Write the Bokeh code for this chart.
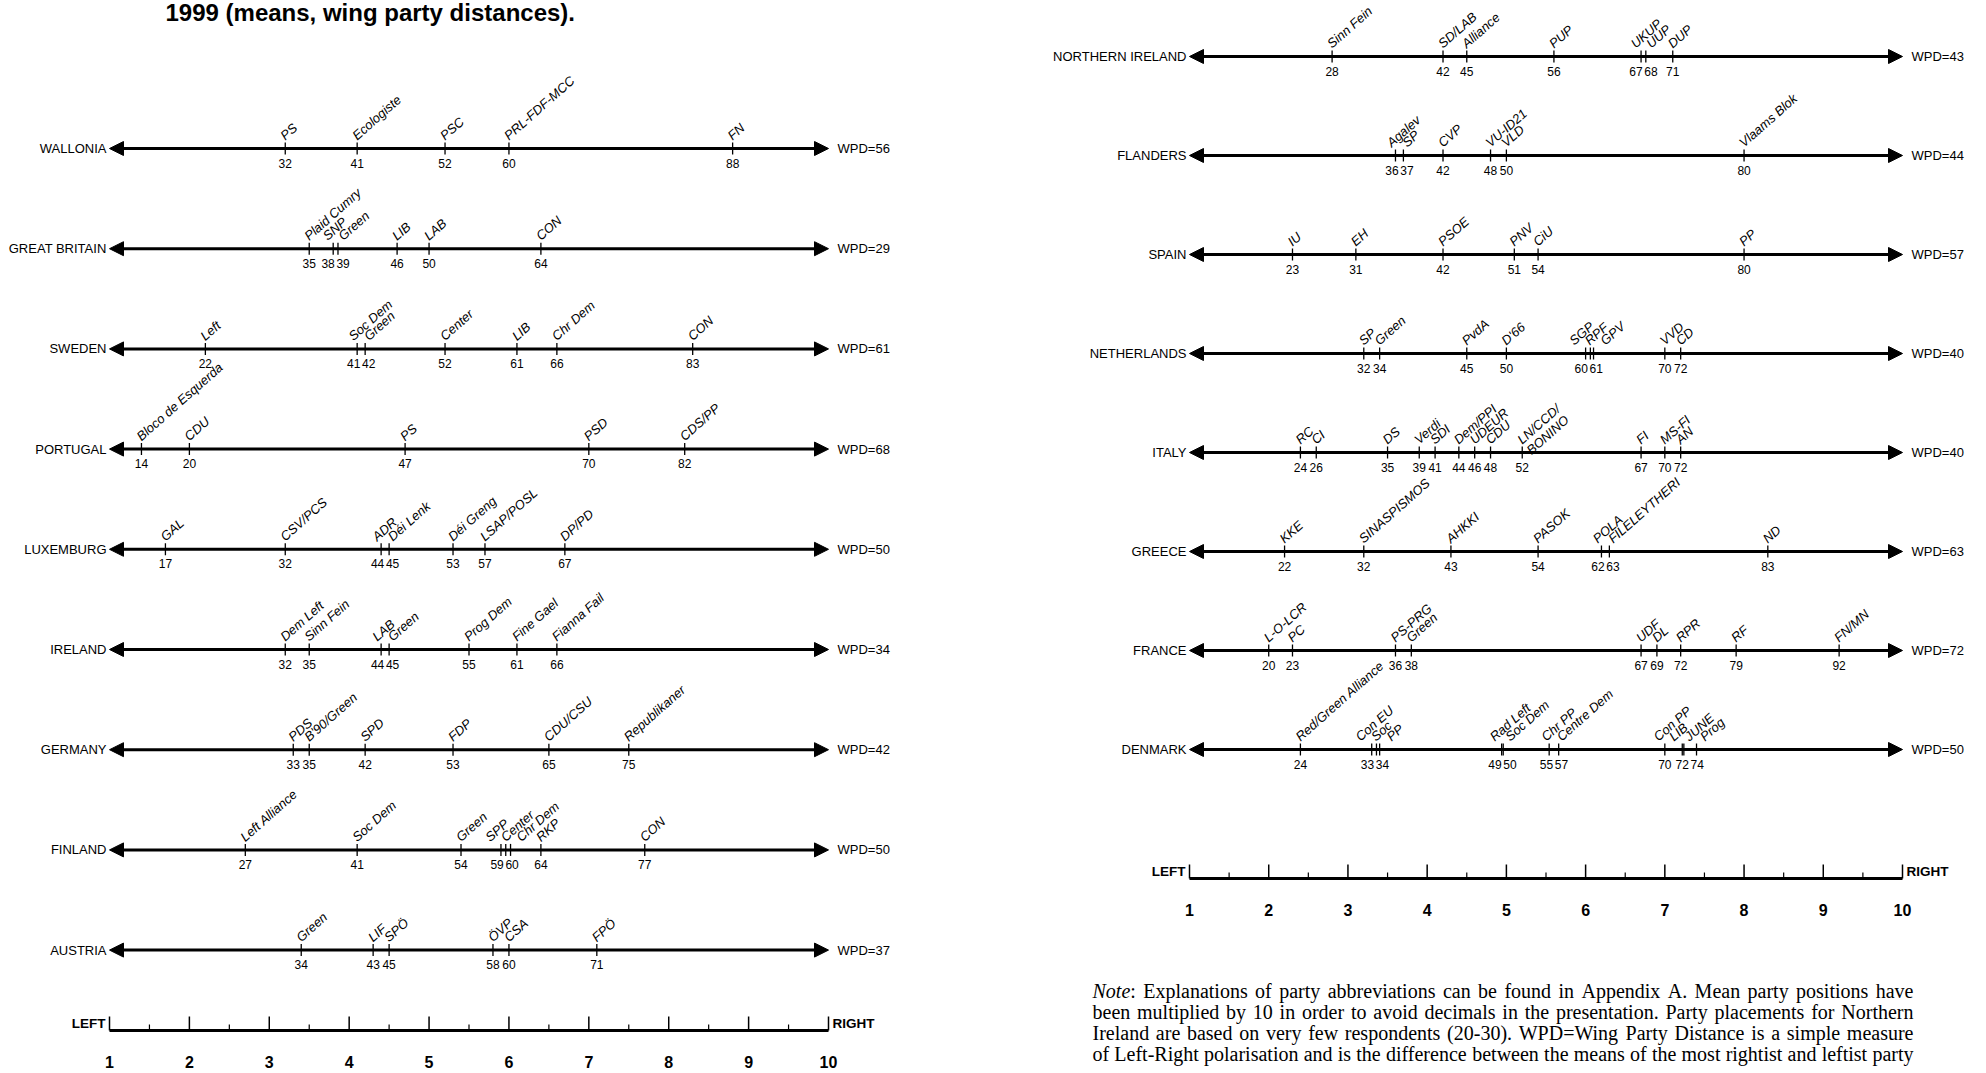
import math
from bokeh.plotting import figure
from bokeh.layouts import row
from bokeh.models import Range1d, ColumnDataSource, Arrow, NormalHead
from bokeh.core.properties import value
from bokeh.embed import file_html
from bokeh.resources import INLINE

# ---------------------------------------------------------------- data
TITLE = "1999 (means, wing party distances)."

wallonia_parties = ["PS", "Ecologiste", "PSC", "PRL-FDF-MCC", "FN"]
wallonia_values = [32, 41, 52, 60, 88]
gb_parties = ["Plaid Cumry", "SNP", "Green", "LIB", "LAB", "CON"]
gb_values = [35, 38, 38.6, 46, 50, 64]
sweden_parties = ["Left", "Soc Dem", "Green", "Center", "LIB", "Chr Dem", "CON"]
sweden_values = [22, 41, 42, 52, 61, 66, 83]
portugal_parties = ["Bloco de Esquerda", "CDU", "PS", "PSD", "CDS/PP"]
portugal_values = [14, 20, 47, 70, 82]
luxemburg_parties = ["GAL", "CSV/PCS", "ADR", "Déi Lenk", "Déi Greng", "LSAP/POSL", "DP/PD"]
luxemburg_values = [17, 32, 44, 45, 53, 57, 67]
ireland_parties = ["Dem Left", "Sinn Fein", "LAB", "Green", "Prog Dem", "Fine Gael", "Fianna Fail"]
ireland_values = [32, 35, 44, 45, 55, 61, 66]
germany_parties = ["PDS", "B'90/Green", "SPD", "FDP", "CDU/CSU", "Republikaner"]
germany_values = [33, 35, 42, 53, 65, 75]
finland_parties = ["Left Alliance", "Soc Dem", "Green", "SPP", "Center", "Chr Dem", "RKP", "CON"]
finland_values = [27, 41, 54, 59, 59.6, 60.2, 64, 77]
austria_parties = ["Green", "LIF", "SPÖ", "ÖVP", "CSA", "FPÖ"]
austria_values = [34, 43, 45, 58, 60, 71]

left_countries = ["WALLONIA", "GREAT BRITAIN", "SWEDEN", "PORTUGAL", "LUXEMBURG",
                  "IRELAND", "GERMANY", "FINLAND", "AUSTRIA"]
left_wpd = [56, 29, 61, 68, 50, 34, 42, 50, 37]
left_parties = [wallonia_parties, gb_parties, sweden_parties, portugal_parties, luxemburg_parties,
                ireland_parties, germany_parties, finland_parties, austria_parties]
left_values = [wallonia_values, gb_values, sweden_values, portugal_values, luxemburg_values,
               ireland_values, germany_values, finland_values, austria_values]

ni_parties = ["Sinn Fein", "SD/LAB", "Alliance", "PUP", "UKUP", "UUP", "DUP"]
ni_values = [28, 42, 45, 56, 67, 67.6, 71]
flanders_parties = ["Agalev", "SP", "CVP", "VU-ID21", "VLD", "Vlaams Blok"]
flanders_values = [36, 37, 42, 48, 50, 80]
spain_parties = ["IU", "EH", "PSOE", "PNV", "CiU", "PP"]
spain_values = [23, 31, 42, 51, 54, 80]
netherlands_parties = ["SP", "Green", "PvdA", "D'66", "SGP", "RPF", "GPV", "VVD", "CD"]
netherlands_values = [32, 34, 45, 50, 60, 60.6, 61, 70, 72]
italy_parties = ["RC", "CI", "DS", "Verdi", "SDI", "Dem/PPI", "UDEUR", "CDU", "LN/CCD/\nBONINO",
                 "FI", "MS-FI", "AN"]
italy_values = [24, 26, 35, 39, 41, 44, 46, 48, 52, 67, 70, 72]
greece_parties = ["KKE", "SINASPISMOS", "AHKKI", "PASOK", "POLA", "FILELEYTHERI", "ND"]
greece_values = [22, 32, 43, 54, 62, 63, 83]
france_parties = ["L-O-LCR", "PC", "PS-PRG", "Green", "UDF", "DL", "RPR", "RF", "FN/MN"]
france_values = [20, 23, 36, 38, 67, 69, 72, 79, 92]
denmark_parties = ["Red/Green Alliance", "Con EU", "Soc", "PP", "Rad Left", "Soc Dem", "Chr PP",
                   "Centre Dem", "Con PP", "LIB", "JUNE", "Prog"]
denmark_values = [24, 33, 33.6, 34, 49.4, 49.6, 55.4, 56.6, 70, 72.2, 72.4, 74]

right_countries = ["NORTHERN IRELAND", "FLANDERS", "SPAIN", "NETHERLANDS", "ITALY",
                   "GREECE", "FRANCE", "DENMARK"]
right_wpd = [43, 44, 57, 40, 40, 63, 72, 50]
right_parties = [ni_parties, flanders_parties, spain_parties, netherlands_parties, italy_parties,
                 greece_parties, france_parties, denmark_parties]
right_values = [ni_values, flanders_values, spain_values, netherlands_values, italy_values,
                greece_values, france_values, denmark_values]

scale_major = [1, 2, 3, 4, 5, 6, 7, 8, 9, 10]
scale_minor = [1.5, 2.5, 3.5, 4.5, 5.5, 6.5, 7.5, 8.5, 9.5]
scale_labels = ["1", "2", "3", "4", "5", "6", "7", "8", "9", "10"]
scale_left, scale_right = "LEFT", "RIGHT"

note_lines = [
    "Note: Explanations of party abbreviations can be found in Appendix A. Mean party positions have",
    "been multiplied by 10 in order to avoid decimals in the presentation. Party placements for Northern",
    "Ireland are based on very few respondents (20-30). WPD=Wing Party Distance is a simple measure",
    "of Left-Right polarisation and is the difference between the means of the most rightist and leftist party",
]

# ---------------------------------------------------------------- style
FONT = "Liberation Sans"
SERIF = "Liberation Serif"
W, H = 992, 1072
ANG = math.radians(41.5)
LBL_SIZE = "13px"
NUM_SIZE = "12px"
CTRY_SIZE = "13px"


def spread(xs, d):
    order = sorted(range(len(xs)), key=lambda i: xs[i])
    clusters = []
    for i in order:
        clusters.append([xs[i], 1, [i]])
        while len(clusters) > 1:
            a, b = clusters[-2], clusters[-1]
            a_start = a[0] / a[1] - (a[1] - 1) * d / 2
            b_start = b[0] / b[1] - (b[1] - 1) * d / 2
            if a_start + a[1] * d > b_start + 1e-9:
                clusters[-2] = [a[0] + b[0], a[1] + b[1], a[2] + b[2]]
                clusters.pop()
            else:
                break
    out = [0.0] * len(xs)
    for s, n, mem in clusters:
        start = s / n - (n - 1) * d / 2
        for k, i in enumerate(mem):
            out[i] = start + k * d
    return out


def make_panel(px1, px10, countries, wpds, parties, values, y0, step, ruler_y):
    slope = (px10 - px1) / 9.0
    xs = 1 - px1 / slope
    xe = xs + W / slope
    p = figure(width=W, height=H, x_range=Range1d(xs, xe), y_range=Range1d(H, 0),
               output_backend="svg", toolbar_location=None, min_border=0,
               x_axis_type=None, y_axis_type=None, outline_line_color=None,
               background_fill_color="white", border_fill_color="white")
    p.grid.visible = False
    px = lambda v: v / slope

    rows_y = [y0 + i * step for i in range(len(countries))]
    src = ColumnDataSource(dict(x0=[1] * len(rows_y), x1=[10] * len(rows_y), y=rows_y))
    head = lambda: NormalHead(size=14, fill_color="black", line_color="black", line_width=1)
    p.add_layout(Arrow(start=head(), end=head(), x_start="x0", y_start="y", x_end="x1",
                       y_end="y", source=src, line_width=3, line_color="black"))

    p.text(x=[1 - px(3)] * len(rows_y), y=rows_y, text=countries, text_align="right",
           text_baseline="middle", text_font=value(FONT), text_font_size=CTRY_SIZE,
           text_color="black")
    p.text(x=[10 + px(9)] * len(rows_y), y=rows_y, text=["WPD=%d" % w for w in wpds],
           text_align="left", text_baseline="middle", text_font=value(FONT),
           text_font_size=CTRY_SIZE, text_color="black")

    tx, ty0, ty1 = [], [], []
    lx, ly, lt = [], [], []
    nx, ny, nt = [], [], []
    for yy, names, vals in zip(rows_y, parties, values):
        pos = [v / 10.0 for v in vals]
        for x in pos:
            tx.append(x); ty0.append(yy - 6); ty1.append(yy + 6)
        spx = spread([x * slope for x in pos], 15.5)
        for name, sx in zip(names, spx):
            for k, line in enumerate(name.split("\n")):
                lx.append(sx / slope - px(3) + px(math.sin(ANG) * 14 * k))
                ly.append(yy - 11 + math.cos(ANG) * 14 * k)
                lt.append(line)
        groups = {}
        for v in vals:
            groups.setdefault(int(math.floor(v + 0.5)), []).append(v / 10.0)
        keys = sorted(groups)
        cx = [sum(groups[k]) / len(groups[k]) * slope for k in keys]
        scx = spread(cx, 15)
        for k, sx in zip(keys, scx):
            nx.append(sx / slope); ny.append(yy + 14.5); nt.append(str(k))

    p.segment(x0=tx, y0=ty0, x1=tx, y1=ty1, line_color="black", line_width=1.3)
    p.text(x=lx, y=ly, text=lt, angle=ANG, text_align="left", text_baseline="alphabetic",
           text_font=value(FONT), text_font_size=LBL_SIZE, text_font_style="italic",
           text_color="black")
    p.text(x=nx, y=ny, text=nt, text_align="center", text_baseline="alphabetic",
           text_font=value(FONT), text_font_size=NUM_SIZE, text_color="black")

    # ruler
    p.segment(x0=[1], y0=[ruler_y], x1=[10], y1=[ruler_y], line_color="black", line_width=3)
    p.segment(x0=scale_major, y0=[ruler_y - 14] * len(scale_major), x1=scale_major,
              y1=[ruler_y] * len(scale_major), line_color="black", line_width=1.5)
    p.segment(x0=scale_minor, y0=[ruler_y - 6] * len(scale_minor), x1=scale_minor,
              y1=[ruler_y] * len(scale_minor), line_color="black", line_width=1.2)
    p.text(x=[1 - px(4)], y=[ruler_y - 7], text=[scale_left], text_align="right",
           text_baseline="middle", text_font=value(FONT), text_font_size="13.5px",
           text_font_style="bold", text_color="black")
    p.text(x=[10 + px(4)], y=[ruler_y - 7], text=[scale_right], text_align="left",
           text_baseline="middle", text_font=value(FONT), text_font_size="13.5px",
           text_font_style="bold", text_color="black")
    num_y = ruler_y + 31
    p.text(x=scale_major, y=[num_y] * len(scale_major), text=scale_labels, text_align="center",
           text_baseline="alphabetic", text_font=value(FONT), text_font_size="16px",
           text_font_style="bold", text_color="black")
    return p, slope, xs


left, lslope, lxs = make_panel(109, 828, left_countries, left_wpd, left_parties, left_values,
                               148, 100.2, 1030)
right, rslope, rxs = make_panel(1189 - W, 1902 - W, right_countries, right_wpd, right_parties,
                                right_values, 56, 99.0, 878)

# title
left.text(x=[lxs + 165 / lslope], y=[12], text=[TITLE], text_align="left",
          text_baseline="alphabetic", text_font=value(FONT), text_font_size="24px",
          text_font_style="bold", text_color="black")

# note (justified, Times metrics)
TW = {' ': 250, '(': 333, ')': 333, ',': 250, '-': 333, '.': 250, ':': 278, '=': 564, "'": 333,
      'A': 722, 'B': 667, 'C': 667, 'D': 722, 'E': 611, 'F': 556, 'G': 722, 'H': 722, 'I': 333,
      'J': 389, 'K': 722, 'L': 611, 'M': 889, 'N': 722, 'O': 722, 'P': 556, 'Q': 722, 'R': 667,
      'S': 556, 'T': 611, 'U': 722, 'V': 722, 'W': 944, 'X': 722, 'Y': 722, 'Z': 611,
      'a': 444, 'b': 500, 'c': 444, 'd': 500, 'e': 444, 'f': 333, 'g': 500, 'h': 500, 'i': 278,
      'j': 278, 'k': 500, 'l': 278, 'm': 778, 'n': 500, 'o': 500, 'p': 500, 'q': 500, 'r': 333,
      's': 389, 't': 278, 'u': 500, 'v': 500, 'w': 722, 'x': 500, 'y': 500, 'z': 444}
TWI = {'N': 667, 'o': 500, 't': 278, 'e': 444}


def em(s, table=TW):
    return sum(table.get(c, 500) for c in s) / 1000.0


NOTE_W = 821
NOTE_X = 1092 - W
ems = [em(l) for l in note_lines]
fs = min(20.0, NOTE_W / max(ems))
wx, wy, wt, ix, iy, it = [], [], [], [], [], []
for li, line in enumerate(note_lines):
    words = line.split(" ")
    widths = []
    for wi, w in enumerate(words):
        if li == 0 and wi == 0:
            widths.append((em("Note", TWI) + em(":")) * fs)
        else:
            widths.append(em(w) * fs)
    gap = (NOTE_W - sum(widths)) / (len(words) - 1)
    x = NOTE_X
    yb = 990 + li * 21.3
    for wi, (w, wd) in enumerate(zip(words, widths)):
        if li == 0 and wi == 0:
            ix.append(rxs + x / rslope); iy.append(yb); it.append("Note")
            wx.append(rxs + (x + em("Note", TWI) * fs) / rslope); wy.append(yb); wt.append(":")
        else:
            wx.append(rxs + x / rslope); wy.append(yb); wt.append(w)
        x += wd + gap
right.text(x=wx, y=wy, text=wt, text_align="left", text_baseline="alphabetic",
           text_font=value(SERIF), text_font_size="%.2fpx" % fs, text_color="black")
right.text(x=ix, y=iy, text=it, text_align="left", text_baseline="alphabetic",
           text_font=value(SERIF), text_font_size="%.2fpx" % fs, text_font_style="italic",
           text_color="black")

layout = row(left, right, spacing=0)
open("out.html", "w", encoding="utf-8").write(file_html(layout, INLINE))
